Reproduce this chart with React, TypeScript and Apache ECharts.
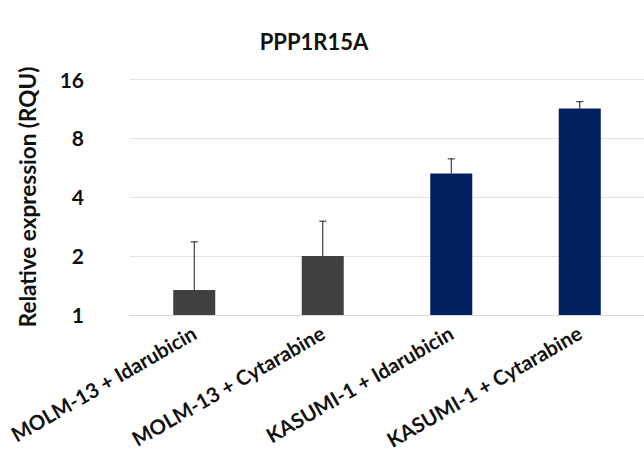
import React, { useEffect, useRef } from "react";
import * as echarts from "echarts";

// Relative expression of PPP1R15A per cell line / treatment
const categories = [
  "MOLM-13 + Idarubicin",
  "MOLM-13 + Cytarabine",
  "KASUMI-1 + Idarubicin",
  "KASUMI-1 + Cytarabine",
];
const means = [1.34, 2.0, 5.27, 11.3];
const upperErrors = [2.36, 3.01, 6.26, 12.25];
const barColors = ["#404040", "#404040", "#002060", "#002060"];
const yTicks = [1, 2, 4, 8, 16];

const FONT = "Lato, 'Open Sans', sans-serif";

export default function App() {
  const ref = useRef<HTMLDivElement>(null);

  useEffect(() => {
    if (!ref.current) return;
    const chart = echarts.init(ref.current, undefined, { renderer: "svg" });

    const errorData = categories.map((_, i) => [i, means[i], upperErrors[i]]);

    chart.setOption({
      animation: false,
      backgroundColor: "#ffffff",
      textStyle: { fontFamily: FONT },
      title: {
        text: "PPP1R15A",
        left: 309,
        top: 25,
        textAlign: "center",
        textStyle: { fontFamily: FONT, fontWeight: "bold", fontSize: 22, color: "#111111" },
      },
      grid: { left: 130, top: 79, width: 520, bottom: 120, containLabel: false },
      xAxis: {
        type: "category",
        data: categories,
        axisLine: { show: true, lineStyle: { color: "#d9d9d9", width: 1 } },
        axisTick: { show: false },
        axisLabel: {
          rotate: 30,
          interval: 0,
          margin: 16,
          fontFamily: FONT,
          fontWeight: "bold",
          fontSize: 20.5,
          color: "#111111",
        },
      },
      yAxis: {
        type: "log",
        logBase: 2,
        min: yTicks[0],
        max: yTicks[yTicks.length - 1],
        name: "Relative expression (RQU)",
        nameLocation: "middle",
        nameGap: 91,
        nameTextStyle: { fontFamily: FONT, fontSize: 22.5, fontWeight: "bold", color: "#111111" },
        axisLine: { show: false },
        axisTick: { show: false },
        axisLabel: {
          margin: 46,
          fontFamily: FONT,
          fontWeight: "bold",
          fontSize: 21,
          color: "#111111",
        },
        splitLine: { show: true, lineStyle: { color: "#e3e3e3", width: 1 } },
      },
      series: [
        {
          type: "bar",
          barWidth: 42,
          data: means.map((v, i) => ({ value: v, itemStyle: { color: barColors[i] } })),
        },
        {
          type: "custom",
          data: errorData,
          encode: { x: 0, y: [1, 2] },
          z: 5,
          renderItem: (params: any, api: any) => {
            const idx = api.value(0);
            const base = api.coord([idx, api.value(1)]);
            const top = api.coord([idx, api.value(2)]);
            const style = { stroke: "#1a1a1a", lineWidth: 1 };
            return {
              type: "group",
              children: [
                { type: "line", shape: { x1: base[0], y1: base[1], x2: top[0], y2: top[1] }, style },
                { type: "line", shape: { x1: top[0] - 3.5, y1: top[1], x2: top[0] + 3.5, y2: top[1] }, style },
              ],
            };
          },
        },
      ],
    });

    return () => chart.dispose();
  }, []);

  return (
    <div
      ref={ref}
      style={{ position: "fixed", left: 0, top: 0, width: 644, height: 452 }}
    />
  );
}
